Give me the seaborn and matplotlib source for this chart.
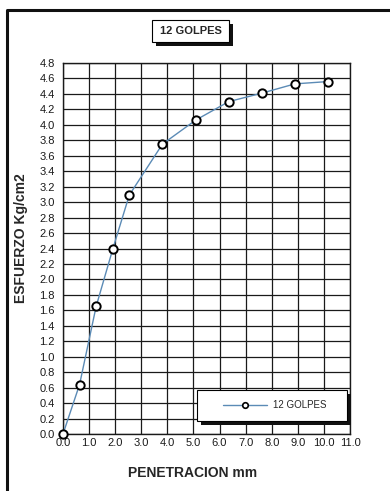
import numpy as np
import pandas as pd
import matplotlib

matplotlib.use("Agg")
import matplotlib.pyplot as plt
import seaborn as sns
from matplotlib.patches import Rectangle
from matplotlib.lines import Line2D

# --- data ---
penetracion = [0.0, 0.635, 1.27, 1.905, 2.54, 3.81, 5.08, 6.35, 7.62, 8.89, 10.16]
esfuerzo = [0.0, 0.64, 1.65, 2.39, 3.09, 3.75, 4.06, 4.30, 4.41, 4.53, 4.56]
serie = "12 GOLPES"
x_ticks = np.arange(0, 11.5, 1.0)
y_ticks = np.arange(0, 4.85, 0.2)

df = pd.DataFrame({"pen": penetracion, "esf": esfuerzo, "serie": serie})

sns.set_style("white")
plt.rcParams["font.family"] = ["Liberation Sans", "DejaVu Sans"]

W, H = 390, 491
fig = plt.figure(figsize=(W / 100, H / 100), dpi=100)
ax = fig.add_axes([63 / W, 1 - 434 / H, 287 / W, 371 / H])

sns.lineplot(data=df, x="pen", y="esf", hue="serie", palette=["#5b8bb6"],
             marker="o", markersize=6, markerfacecolor="white",
             markeredgecolor="black", markeredgewidth=1.4, linewidth=1.0,
             ax=ax, clip_on=False, zorder=5)

ax.set_xlim(0, 11)
ax.set_ylim(0, 4.8)
ax.set_xticks(x_ticks)
ax.set_yticks(y_ticks)
ax.set_xticklabels([f"{v:.1f}" for v in x_ticks])
ax.set_yticklabels([f"{v:.1f}" for v in y_ticks])
ax.tick_params(axis="both", labelsize=8, length=0, colors="#1a1a1a")
ax.tick_params(axis="y", pad=6)
ax.tick_params(axis="x", pad=3)
ax.grid(True, color="#1a1a1a", linewidth=0.9)
for s in ax.spines.values():
    s.set_color("#1a1a1a")
    s.set_linewidth(1.0)
ax.set_xlabel("")
ax.set_ylabel("")

fig.text(193 / W, 1 - 473 / H, "PENETRACION mm", ha="center", va="center",
         fontsize=10, fontweight="bold")
fig.text(21 / W, 1 - 238 / H, "ESFUERZO Kg/cm2", ha="center", va="center",
         rotation=90, fontsize=10, fontweight="bold")

# legend box with a solid shadow, legend centred inside it
lx0, lx1 = (197 - 63) / 287, (347 - 63) / 287
ly0, ly1 = (434 - 421) / 371, (434 - 390) / 371
ax.add_patch(Rectangle((lx0 + 4 / 287, ly0 - 4 / 371), lx1 - lx0, ly1 - ly0,
                       transform=ax.transAxes, facecolor="#111111",
                       edgecolor="none", zorder=6, clip_on=False))
ax.add_patch(Rectangle((lx0, ly0), lx1 - lx0, ly1 - ly0, transform=ax.transAxes,
                       facecolor="white", edgecolor="black", linewidth=0.8,
                       zorder=7, clip_on=False))
leg = ax.legend(loc="center", bbox_to_anchor=(0.737, (ly0 + ly1) / 2),
                frameon=False, fontsize=7, handlelength=4.5,
                handletextpad=0.6, borderpad=0)
leg.set_zorder(8)
for h in leg.legend_handles:
    h.set_markersize(4)
    h.set_markeredgewidth(1.2)

# title box with shadow
bx, by, bw, bh = 152 / W, 1 - 42 / H, 77 / W, 22 / H
fig.patches.append(Rectangle((bx + 4 / W, by - 4 / H), bw, bh, transform=fig.transFigure,
                             facecolor="#111111", edgecolor="none", zorder=1))
fig.patches.append(Rectangle((bx, by), bw, bh, transform=fig.transFigure,
                             facecolor="white", edgecolor="black", linewidth=0.8, zorder=2))
fig.text(bx + bw / 2, by + bh / 2, "12 GOLPES", ha="center", va="center",
         fontsize=8, fontweight="bold", zorder=3)

# outer frame (left and top edges of the scanned sheet)
fig.lines.append(Line2D([7 / W, 7 / W, 1.0], [0.0, 1 - 10 / H, 1 - 10 / H],
                        transform=fig.transFigure, color="#111111", linewidth=2.2))

fig.savefig("out.png", dpi=100)
